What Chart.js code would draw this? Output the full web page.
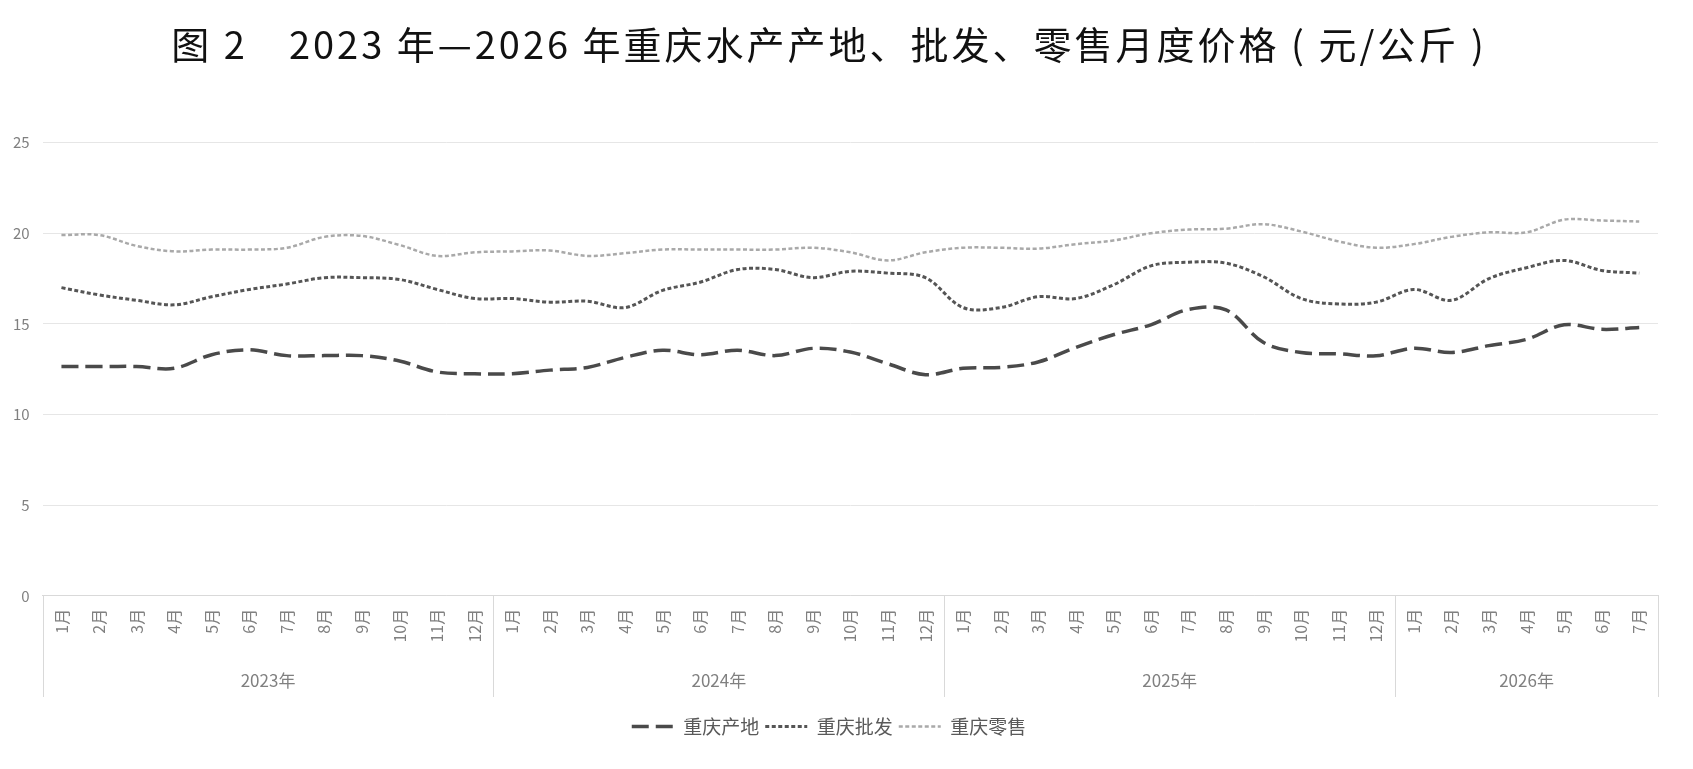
<!DOCTYPE html>
<html>
<head>
<meta charset="utf-8">
<script src="https://cdn.jsdelivr.net/npm/chart.js@4.4.1/dist/chart.umd.min.js"></script>
<style>
  html, body { margin: 0; padding: 0; background: #ffffff; }
  #wrap { width: 1693px; height: 769px; position: relative; }
</style>
</head>
<body>
<div id="wrap"><canvas id="c"></canvas></div>
<script>
// ---- data ----
const years = ['2023年', '2024年', '2025年', '2026年'];
const monthsPerYear = [12, 12, 12, 7];
const seriesNames = ['重庆产地', '重庆批发', '重庆零售'];
const origin = [12.65, 12.65, 12.65, 12.55, 13.3, 13.57, 13.25, 13.25, 13.25, 12.95, 12.35, 12.25,
  12.25, 12.45, 12.6, 13.15, 13.55, 13.3, 13.55, 13.25, 13.65, 13.45, 12.8, 12.2,
  12.55, 12.6, 12.9, 13.7, 14.4, 14.95, 15.8, 15.77, 13.97, 13.42, 13.35, 13.24,
  13.66, 13.42, 13.8, 14.15, 14.95, 14.7, 14.8];
const wholesale = [17.0, 16.6, 16.3, 16.05, 16.5, 16.9, 17.2, 17.55, 17.55, 17.45, 16.9, 16.4,
  16.4, 16.2, 16.25, 15.9, 16.85, 17.3, 18.0, 18.0, 17.55, 17.9, 17.8, 17.55,
  15.9, 15.9, 16.5, 16.4, 17.15, 18.2, 18.4, 18.35, 17.6, 16.4, 16.1, 16.2,
  16.9, 16.3, 17.5, 18.1, 18.5, 17.95, 17.8];
const retail = [19.9, 19.9, 19.3, 19.0, 19.1, 19.1, 19.2, 19.8, 19.85, 19.35, 18.75, 18.95,
  19.0, 19.05, 18.75, 18.9, 19.1, 19.1, 19.1, 19.1, 19.2, 18.95, 18.5, 18.95,
  19.2, 19.2, 19.15, 19.4, 19.6, 20.0, 20.2, 20.25, 20.5, 20.1, 19.55, 19.2,
  19.4, 19.8, 20.05, 20.05, 20.75, 20.7, 20.65];
const yTicks = [0, 5, 10, 15, 20, 25];
const titleText = '图 2　2023 年—2026 年重庆水产产地、批发、零售月度价格 ( 元/公斤 )';

// ---- derived labels ----
const monthLabels = [];
const yearCenters = [];
const yearBounds = [-0.5];
let start = 0;
monthsPerYear.forEach((n) => {
  for (let m = 1; m <= n; m++) monthLabels.push(m + '月');
  yearCenters.push(start + (n - 1) / 2);
  start += n;
  yearBounds.push(start - 0.5);
});

const FONT = '"Noto Sans CJK SC", "Noto Sans", sans-serif';

const separators = {
  id: 'separators',
  afterDraw(chart) {
    const x = chart.scales.x, x2 = chart.scales.x2;
    const ctx = chart.ctx;
    ctx.save();
    ctx.strokeStyle = '#d9d9d9';
    ctx.lineWidth = 1;
    yearBounds.forEach((b) => {
      const px = Math.round(x2.getPixelForValue(b)) + 0.5;
      ctx.beginPath();
      ctx.moveTo(px, x.top);
      ctx.lineTo(px, x2.bottom - 14);
      ctx.stroke();
    });
    ctx.restore();
  }
};

const chart = new Chart(document.getElementById('c'), {
  type: 'line',
  data: {
    labels: monthLabels,
    datasets: [
      { label: seriesNames[0], data: origin, borderColor: '#4a4a4a', backgroundColor: '#4a4a4a',
        borderWidth: 3.5, borderDash: [17, 7], borderCapStyle: 'butt', pointRadius: 0, tension: 0.35, fill: false },
      { label: seriesNames[1], data: wholesale, borderColor: '#555555', backgroundColor: '#555555',
        borderWidth: 3, borderDash: [4, 2.5], pointRadius: 0, tension: 0.35, fill: false },
      { label: seriesNames[2], data: retail, borderColor: '#a9a9a9', backgroundColor: '#a9a9a9',
        borderWidth: 2.5, borderDash: [4, 2.5], pointRadius: 0, tension: 0.35, fill: false }
    ]
  },
  options: {
    responsive: true,
    maintainAspectRatio: false,
    animation: false,
    layout: { padding: { left: 0, right: 35, top: 0, bottom: 23 } },
    scales: {
      x: {
        type: 'category',
        offset: true,
        grid: { display: false, drawTicks: false },
        border: { display: true, color: '#d9d9d9', width: 1 },
        ticks: {
          color: '#808080', font: { family: FONT, size: 16 },
          minRotation: 90, maxRotation: 90, autoSkip: false, padding: 13
        }
      },
      x2: {
        type: 'linear',
        position: 'bottom',
        min: -0.5,
        max: monthLabels.length - 0.5,
        grid: { display: false, drawTicks: false },
        border: { display: false },
        afterBuildTicks: (s) => { s.ticks = yearCenters.map(v => ({ value: v })); },
        afterFit: (s) => { s.height += 5; },
        ticks: {
          color: '#808080', font: { family: FONT, size: 17 },
          autoSkip: false, maxRotation: 0, minRotation: 0, padding: 15,
          callback: (v) => { const i = yearCenters.indexOf(v); return i >= 0 ? years[i] : ''; }
        }
      },
      y: {
        min: 0, max: 25,
        afterBuildTicks: (s) => { s.ticks = yTicks.map(v => ({ value: v })); },
        grid: { color: '#e6e6e6', lineWidth: 1, drawTicks: false },
        border: { display: false },
        ticks: { color: '#808080', font: { family: FONT, size: 15 }, padding: 13 }
      }
    },
    plugins: {
      title: {
        display: true, text: titleText, color: '#111111',
        font: { family: FONT, size: 38, weight: 'normal' },
        padding: { top: 22, bottom: 75 }
      },
      legend: {
        position: 'bottom',
        labels: {
          color: '#595959', font: { family: FONT, size: 19 },
          usePointStyle: true, pointStyle: 'line', pointStyleWidth: 42, boxHeight: 10, padding: 6,
          generateLabels: (ch) => {
            const items = Chart.defaults.plugins.legend.labels.generateLabels(ch);
            items.forEach((it) => {
              const ds = ch.data.datasets[it.datasetIndex];
              it.lineDash = ds.borderDash;
              it.lineWidth = ds.borderWidth;
              it.strokeStyle = ds.borderColor;
              it.pointStyle = 'line';
            });
            return items;
          }
        }
      },
      tooltip: { enabled: false }
    }
  },
  plugins: [separators]
});

// title letter spacing
const tb = chart.titleBlock;
const origDraw = tb.draw;
tb.draw = function (area) {
  const ctx = this.ctx;
  const prev = ctx.letterSpacing;
  ctx.letterSpacing = '3px';
  origDraw.call(this, area);
  ctx.letterSpacing = prev || '0px';
};
chart.draw();
</script>
</body>
</html>
